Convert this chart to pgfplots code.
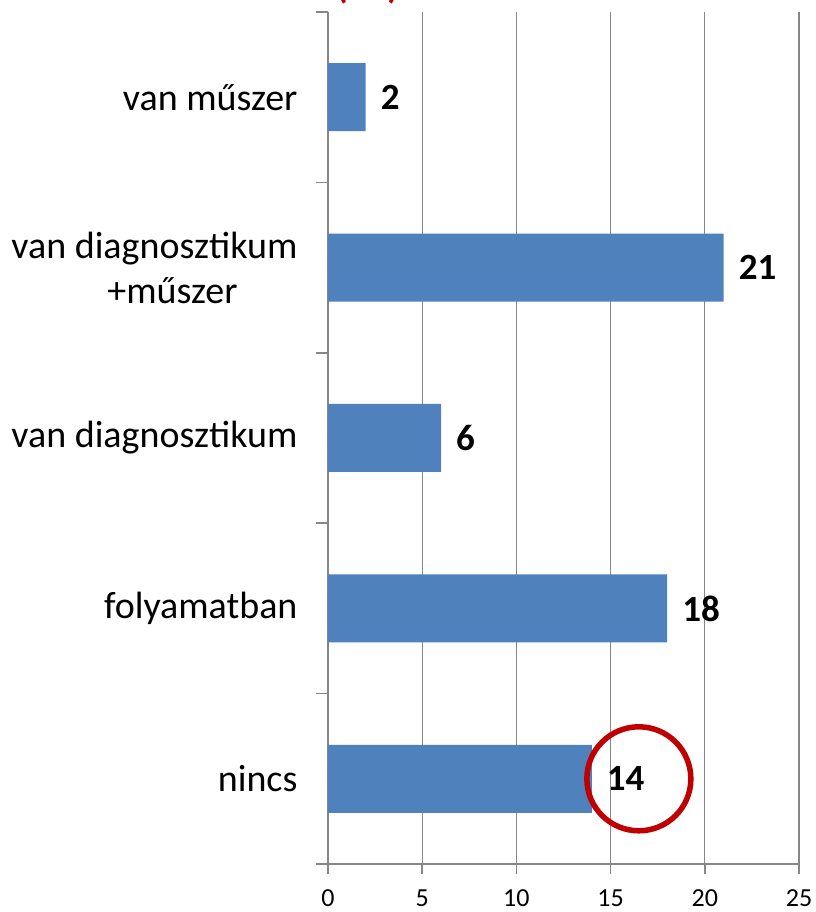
\documentclass[border=0pt]{standalone}
\usepackage{fontspec}
\setmainfont{Carlito}
\usepackage{pgfplots}
\pgfplotsset{compat=1.18}
\definecolor{barblue}{HTML}{4F81BD}
\definecolor{darkred}{HTML}{C00000}
\definecolor{gridgray}{HTML}{878787}
\begin{document}
\begin{tikzpicture}
\useasboundingbox (-328pt,-48pt) rectangle (487pt,864pt);
\begin{axis}[
  at={(0,0)}, anchor=south west,
  scale only axis, width=471pt, height=852pt,
  xbar, bar width=68pt,
  xmin=0, xmax=25, ymin=-0.5, ymax=4.5,
  axis x line=bottom, axis y line=left,
  axis line style={-, draw=gridgray, line width=1.5pt},
  xtick={0,5,...,25},
  xmajorgrids, grid style={draw=gridgray, line width=1.3pt},
  ytick={0,1,2,3,4},
  yticklabels={nincs, folyamatban, van diagnosztikum, {van diagnosztikum\\\hspace*{36pt}+műszer}, van műszer},
  minor ytick={-0.5,0.5,1.5,2.5,3.5,4.5},
  tick align=outside,
  major tick length=10pt, minor tick length=12pt,
  major y tick style={draw=none},
  minor y tick style={draw=gridgray, line width=1.5pt},
  major x tick style={draw=gridgray, line width=1.5pt},
  yticklabel style={font=\fontsize{38}{45}\selectfont, align=center, xshift=-17pt},
  xticklabel style={font=\fontsize{26}{31}\selectfont, yshift=-12pt},
  /pgf/number format/assume math mode=true,
  clip=false,
]
\addplot[fill=barblue, draw=none,
  nodes near coords,
  nodes near coords style={font=\bfseries\fontsize{37}{44}\selectfont, anchor=west, inner sep=0pt, xshift=15pt, text=black}]
  coordinates {(14,0) (18,1) (6,2) (21,3) (2,4)};
\draw[darkred, line width=5.5pt] (axis cs:16.5,0) circle[radius=52pt];
\end{axis}
\node[anchor=base west, inner sep=0pt, text=darkred, font=\bfseries\fontsize{37}{44}\selectfont] at (8pt,865pt) {(db)};
\end{tikzpicture}
\end{document}
